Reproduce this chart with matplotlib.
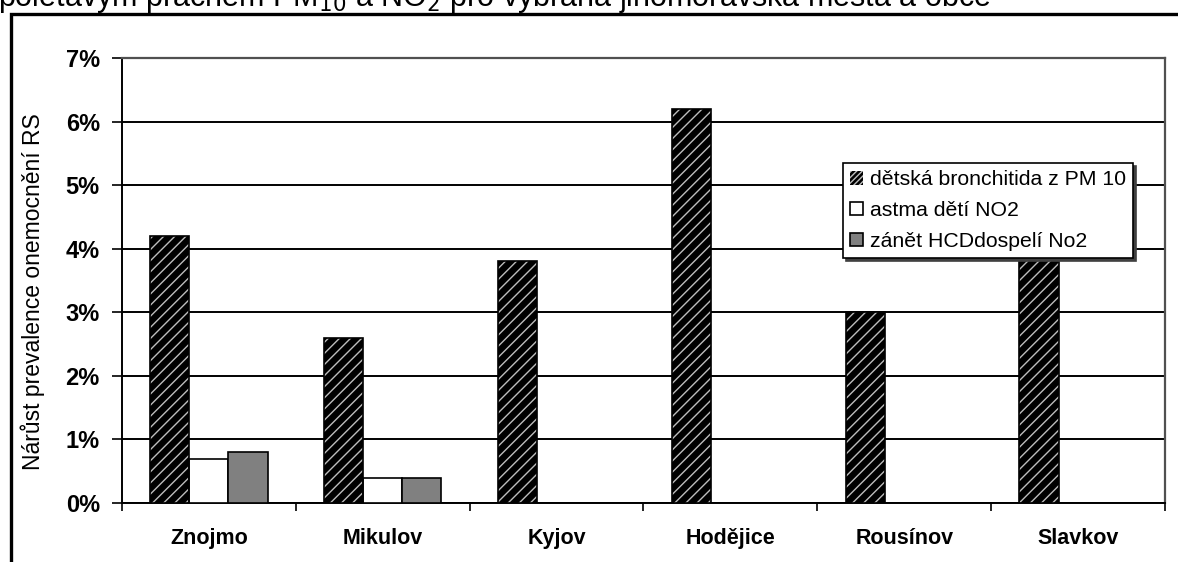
import matplotlib
matplotlib.use("Agg")
import matplotlib.pyplot as plt
import numpy as np
from matplotlib.patches import Rectangle

plt.rcParams['font.family'] = ['Liberation Sans', 'DejaVu Sans']
plt.rcParams['hatch.linewidth'] = 1.0

cities = ['Znojmo', 'Mikulov', 'Kyjov', 'Hodějice', 'Rousínov', 'Slavkov']
bronchitis_pm10 = [4.2, 2.6, 3.8, 6.2, 3.0, 3.9]
asthma_no2 = [0.7, 0.4, 0, 0, 0, 0]
airway_adults_no2 = [0.8, 0.4, 0, 0, 0, 0]
series_names = ['dětská bronchitida z PM 10', 'astma dětí NO2', 'zánět HCDdospelí No2']
y_ticks = [0, 1, 2, 3, 4, 5, 6, 7]

W, H = 1178, 562
fig = plt.figure(figsize=(W / 100, H / 100), dpi=100)

# outer frame and the clipped heading above it
fig.patches.append(Rectangle((11 / W, -0.1), 1.2, (H - 14) / H + 0.1,
                             transform=fig.transFigure, fill=False,
                             edgecolor='black', linewidth=2.4, zorder=0))
fig.text(-2 / W, (H - 6) / H,
         'polétavým prachem PM$_{10}$ a NO$_2$ pro vybraná jihomoravská města a obce',
         fontsize=22, va='baseline', ha='left')

ax = fig.add_axes([122 / W, (H - 503) / H, (1165 - 122) / W, (503 - 58) / H])

x = np.arange(len(cities))
bw = 0.225

# hatched bars: black fill with light diagonal stripes, then black outline
ax.bar(x - bw, bronchitis_pm10, bw, facecolor='black', edgecolor='#bdbdbd',
       hatch='///', linewidth=0, zorder=3)
ax.bar(x - bw, bronchitis_pm10, bw, fill=False, edgecolor='black',
       linewidth=1.2, zorder=4)
ax.bar(x, asthma_no2, bw, facecolor='white', edgecolor='black',
       linewidth=1.2, zorder=3)
ax.bar(x + bw, airway_adults_no2, bw, facecolor='#808080', edgecolor='black',
       linewidth=1.2, zorder=3)

ax.set_xlim(-0.5, len(cities) - 0.5)
ax.set_ylim(0, 7)
ax.set_yticks(y_ticks)
ax.set_yticklabels([f'{t}%' for t in y_ticks], fontsize=17, fontweight='bold')
ax.yaxis.grid(True, color='black', linewidth=1.4, zorder=0)
ax.set_axisbelow(True)

ax.set_xticks(x)
ax.set_xticklabels(cities, fontsize=15.5, fontweight='bold')
ax.set_xticks(np.arange(len(cities) + 1) - 0.5, minor=True)
ax.tick_params(axis='x', which='major', length=0, pad=18)
ax.tick_params(axis='x', which='minor', length=6, width=1.2, direction='out')
ax.tick_params(axis='y', length=7, width=1.2, direction='out', pad=9)

for side in ('top', 'right'):
    ax.spines[side].set_color('#505050')
    ax.spines[side].set_linewidth(1.6)
for side in ('left', 'bottom'):
    ax.spines[side].set_color('black')
    ax.spines[side].set_linewidth(1.4)

ax.set_ylabel('Nárůst prevalence onemocnění RS', fontsize=16.5)
ax.yaxis.set_label_coords(-(122 - 45) / (1165 - 122), 0.475)

handles = [
    Rectangle((0, 0), 1, 1, facecolor='black', edgecolor='#bdbdbd', hatch='//////', linewidth=0),
    Rectangle((0, 0), 1, 1, facecolor='white', edgecolor='black', linewidth=1.2),
    Rectangle((0, 0), 1, 1, facecolor='#808080', edgecolor='black', linewidth=1.2),
]
leg = ax.legend(handles, series_names, loc='upper left',
                bbox_to_anchor=((843 - 122) / (1165 - 122), (503 - 163) / (503 - 58)),
                fontsize=15.3, frameon=True, fancybox=False, shadow={'color': '#404040', 'alpha': 1},
                edgecolor='black', framealpha=1, handlelength=0.6, handleheight=0.6,
                handletextpad=0.3, labelspacing=0.55, borderpad=0.35, borderaxespad=0)
leg.get_frame().set_linewidth(1.2)
leg.set_zorder(10)

fig.savefig('out.png', dpi=100)
